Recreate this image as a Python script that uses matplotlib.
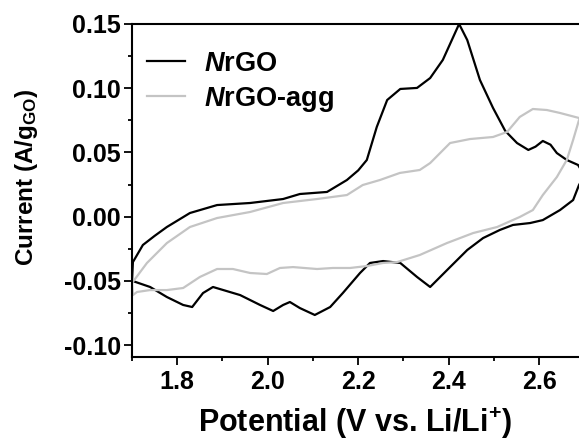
import numpy as np
import matplotlib.pyplot as plt
from matplotlib.ticker import MultipleLocator

plt.rcParams['font.family'] = 'Liberation Sans'
plt.rcParams['font.weight'] = 'bold'
plt.rcParams['axes.labelweight'] = 'bold'
plt.rcParams['mathtext.fontset'] = 'custom'
plt.rcParams['mathtext.rm'] = 'Liberation Sans:bold'
plt.rcParams['mathtext.bf'] = 'Liberation Sans:bold'
plt.rcParams['mathtext.it'] = 'Liberation Sans:italic:bold'
plt.rcParams['mathtext.bfit'] = 'Liberation Sans:italic:bold'

# NrGO cyclic voltammogram (anodic sweep then cathodic sweep)
nrgo_v = [1.700, 1.702, 1.724, 1.750, 1.777, 1.828, 1.888, 1.961, 2.034, 2.071, 2.131,
          2.175, 2.200, 2.219, 2.241, 2.264, 2.293, 2.330, 2.359, 2.387, 2.409, 2.423,
          2.441, 2.469, 2.498, 2.525, 2.551, 2.576, 2.592, 2.608, 2.625, 2.639, 2.661, 2.686,
          2.700,
          2.688, 2.675, 2.646, 2.608, 2.580, 2.542, 2.513, 2.476, 2.441, 2.403,
          2.359, 2.330, 2.293, 2.255, 2.226, 2.204, 2.166, 2.138, 2.104, 2.071,
          2.049, 2.034, 2.012, 1.983, 1.939, 1.879, 1.857, 1.833, 1.813, 1.777,
          1.740, 1.702]
nrgo_i = [-0.050, -0.0354, -0.0221, -0.0150, -0.0081, 0.0028, 0.0090, 0.0106, 0.0137, 0.0176, 0.0192,
          0.0285, 0.0360, 0.0441, 0.0698, 0.0908, 0.0994, 0.1002, 0.1079, 0.1220, 0.1391, 0.150,
          0.1375, 0.1064, 0.0846, 0.0667, 0.0573, 0.0519, 0.0545, 0.0589, 0.0560, 0.0495, 0.0441, 0.0402,
          0.032,
          0.0246, 0.0129, 0.0051, -0.0027, -0.0050, -0.0065, -0.0104, -0.0167, -0.0260, -0.0393,
          -0.0548, -0.0470, -0.0361, -0.0346, -0.0361, -0.0439, -0.0595, -0.0704, -0.0766, -0.0712,
          -0.0665, -0.0688, -0.0735, -0.0688, -0.0611, -0.0548, -0.0595, -0.0704, -0.0688, -0.0626,
          -0.0548, -0.0502]

# NrGO-agg cyclic voltammogram
agg_v = [1.700, 1.733, 1.777, 1.828, 1.888, 1.961, 2.034, 2.109, 2.175, 2.210,
         2.248, 2.292, 2.336, 2.359, 2.403, 2.447, 2.498, 2.529, 2.557, 2.586,
         2.617, 2.646, 2.688, 2.700,
         2.688, 2.675, 2.661, 2.639, 2.608, 2.586, 2.557, 2.507, 2.454, 2.396,
         2.336, 2.286, 2.255, 2.219, 2.182, 2.144, 2.109, 2.056, 2.027, 1.998,
         1.961, 1.923, 1.888, 1.850, 1.813, 1.777, 1.740, 1.711, 1.702, 1.700]
agg_i = [-0.0517, -0.0361, -0.0206, -0.0081, -0.0011, 0.0036, 0.0106, 0.0137, 0.0168, 0.0246,
         0.0285, 0.0340, 0.0363, 0.0417, 0.0573, 0.0604, 0.0620, 0.0659, 0.0776, 0.0838,
         0.0830, 0.0807, 0.0768, 0.0760,
         0.0752, 0.0597, 0.0441, 0.0308, 0.0168, 0.0051, -0.0003, -0.0081, -0.0128, -0.0206,
         -0.0299, -0.0354, -0.0361, -0.0385, -0.0400, -0.0400, -0.0408, -0.0393, -0.0400, -0.0447,
         -0.0439, -0.0408, -0.0408, -0.0470, -0.0556, -0.0572, -0.0572, -0.0587, -0.0611, -0.0517]

x_ticks = [1.8, 2.0, 2.2, 2.4, 2.6]
y_ticks = [-0.10, -0.05, 0.00, 0.05, 0.10, 0.15]

fig = plt.figure(figsize=(5.79, 4.44), dpi=100)
ax = fig.add_axes([0.228, 0.196, 0.772, 0.750])

ax.plot(nrgo_v, nrgo_i, color='black', linewidth=1.6, label=r'$\mathbfit{N}$rGO')
ax.plot(agg_v, agg_i, color='#c4c4c4', linewidth=1.6, label=r'$\mathbfit{N}$rGO-agg')

ax.set_xlim(1.70, 2.688)
ax.set_ylim(-0.1093, 0.15)
ax.xaxis.set_minor_locator(MultipleLocator(0.1))
ax.yaxis.set_minor_locator(MultipleLocator(0.025))
ax.set_xticks(x_ticks)
ax.set_xticklabels(['%.1f' % v for v in x_ticks])
ax.set_yticks(y_ticks)
ax.set_yticklabels(['%.2f' % v for v in y_ticks])

ax.spines['right'].set_visible(False)
for s in ['left', 'top', 'bottom']:
    ax.spines[s].set_linewidth(1.5)
ax.tick_params(which='major', direction='out', length=5.5, width=1.3, pad=3)
ax.tick_params(axis='x', labelsize=18, pad=4)
ax.tick_params(axis='y', labelsize=18, pad=2.5)
ax.tick_params(which='minor', direction='out', length=3, width=1.3)
ax.tick_params(top=False, right=False)

ax.set_xlabel(r'Potential (V vs. Li/Li$^{\mathbf{+}}$)', fontsize=22, labelpad=8)
ax.set_ylabel(r'Current (A/g$_{\mathbf{GO}}$)', fontsize=17.5)
ax.yaxis.set_label_coords(-0.205, 0.54)

ax.legend(loc='upper left', frameon=False, fontsize=19.5, handlelength=1.4,
          handletextpad=0.7, labelspacing=0.3, borderaxespad=0.0,
          bbox_to_anchor=(0.01, 0.952))

fig.savefig('out.png', dpi=100)
